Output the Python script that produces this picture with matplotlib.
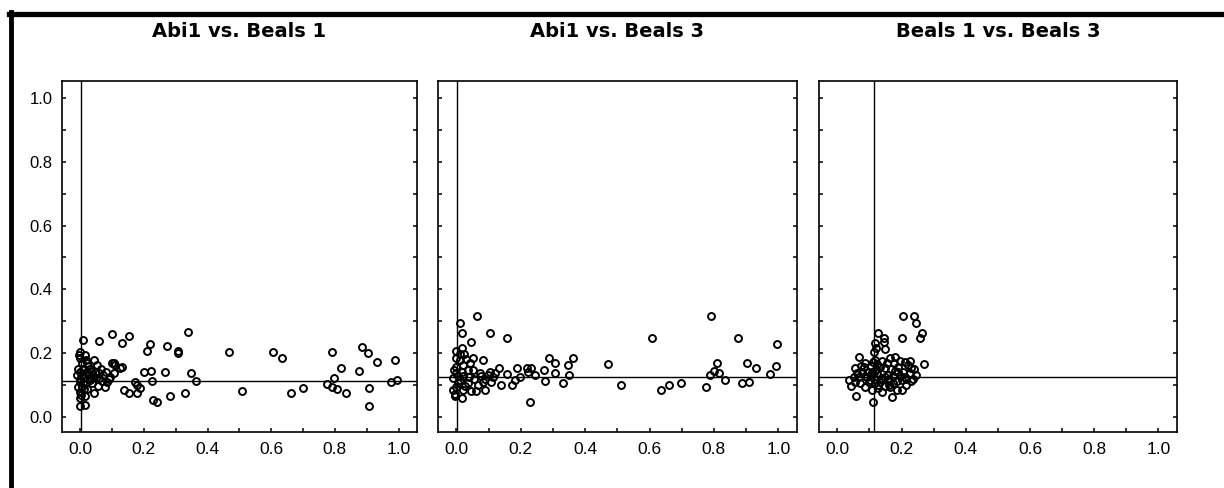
import matplotlib.pyplot as plt
from matplotlib.lines import Line2D
from matplotlib.ticker import MultipleLocator

# panel titles
titles = ['Abi1 vs. Beals 1', 'Abi1 vs. Beals 3', 'Beals 1 vs. Beals 3']

# reference lines (means)
abi1_mean = 0.002
beals1_mean = 0.113
beals3_mean = 0.124

# panel 1: Abi1 (x) vs Beals 1 (y)
p1_x = [0.01, 0.06, 0.10, 0.133, 0.152, 0.22, 0.21, 0.273, 0.306, 0.306, 0.34,
        0.466, 0.605, 0.634, 0.79, 0.886, 0.905, 0.933, 0.99, 0.818, 0.875,
        0.349, 0.364, 0.267, 0.20, 0.222, 0.225, 0.173, 0.18, 0.189, 0.178,
        0.138, 0.152, 0.23, 0.24, 0.283, 0.33, 0.508, 0.662, 0.70, 0.774,
        0.797, 0.79, 0.807, 0.835, 0.907, 0.907, 0.975, 0.994, 0.126, 0.105,
        0.0, 0.0, 0.005, -0.008, 0.01, -0.01, 0.008, 0.0, 0.01, 0.0, 0.0, 0.0,
        0.014, 0.021, 0.03, 0.026, 0.037, 0.021, 0.042, 0.047, 0.058, 0.052,
        0.073, 0.084, 0.094, 0.079, 0.105, 0.11, 0.131, 0.065, 0.042, 0.10,
        0.015, 0.035, 0.06, 0.09, 0.005, 0.02,
        -0.005, 0.0, 0.012, -0.006, 0.004, 0.018, 0.03, 0.045, 0.07, 0.025,
        0.012, 0.055, 0.08, 0.035, 0.0, 0.015]
p1_y = [0.24, 0.238, 0.26, 0.233, 0.255, 0.228, 0.207, 0.224, 0.208, 0.20, 0.265,
        0.203, 0.203, 0.184, 0.205, 0.218, 0.20, 0.173, 0.179, 0.155, 0.144,
        0.137, 0.113, 0.14, 0.14, 0.145, 0.113, 0.11, 0.10, 0.09, 0.076,
        0.085, 0.074, 0.053, 0.048, 0.066, 0.076, 0.082, 0.074, 0.09, 0.103,
        0.121, 0.093, 0.087, 0.076, 0.09, 0.036, 0.109, 0.116, 0.155, 0.168,
        0.205, 0.184, 0.168, 0.152, 0.152, 0.131, 0.131, 0.11, 0.105, 0.079,
        0.058, 0.034, 0.037, 0.168, 0.152, 0.131, 0.105, 0.089, 0.074, 0.142,
        0.121, 0.163, 0.131, 0.11, 0.126, 0.095, 0.137, 0.163, 0.158, 0.152,
        0.179, 0.17, 0.195, 0.118, 0.138, 0.118, 0.095, 0.14,
        0.195, 0.142, 0.122, 0.095, 0.068, 0.178, 0.115, 0.125, 0.112, 0.16,
        0.088, 0.098, 0.14, 0.145, 0.12, 0.065]

# panel 2: Abi1 (x) vs Beals 3 (y)
p2_x = [0.064, 0.01, 0.016, 0.045, 0.104, 0.156, 0.607, 0.79, 0.875, 0.995,
        0.0, 0.019, 0.0, 0.01, 0.03, 0.052, 0.083, 0.02, 0.042, 0.0, 0.0,
        0.016, 0.052, -0.01, 0.01, 0.036, 0.0, -0.01, 0.02, -0.005, 0.016,
        0.047, 0.062, 0.068, 0.088, 0.083, 0.109, 0.099, 0.073, 0.104, 0.133,
        0.12, 0.156, 0.14, 0.174, 0.189, 0.182, 0.197, 0.218, 0.232, 0.223,
        0.244, 0.228, 0.272, 0.275, 0.289, 0.306, 0.306, 0.332, 0.346, 0.351,
        0.363, 0.47, 0.512, 0.636, 0.659, 0.699, 0.774, 0.789, 0.808, 0.80,
        0.817, 0.835, 0.888, 0.909, 0.903, 0.932, 0.974, 0.992, 0.005, 0.025,
        -0.008, 0.006, 0.022, 0.035, 0.012, -0.004, 0.028, 0.055, 0.075, 0.04,
        0.09, 0.115]
p2_y = [0.315, 0.296, 0.262, 0.236, 0.262, 0.247, 0.249, 0.315, 0.249, 0.229,
        0.208, 0.215, 0.184, 0.179, 0.181, 0.184, 0.179, 0.163, 0.168, 0.158,
        0.137, 0.142, 0.147, 0.121, 0.116, 0.106, 0.095, 0.085, 0.085, 0.066,
        0.061, 0.082, 0.082, 0.10, 0.085, 0.111, 0.111, 0.132, 0.137, 0.142,
        0.155, 0.137, 0.135, 0.10, 0.10, 0.153, 0.116, 0.126, 0.155, 0.155,
        0.142, 0.132, 0.046, 0.147, 0.114, 0.184, 0.168, 0.139, 0.106, 0.163,
        0.132, 0.184, 0.165, 0.10, 0.085, 0.10, 0.106, 0.095, 0.132, 0.168,
        0.145, 0.137, 0.116, 0.106, 0.111, 0.168, 0.155, 0.135, 0.16, 0.128,
        0.198,
        0.148, 0.105, 0.128, 0.148, 0.196, 0.072, 0.098, 0.118, 0.128, 0.124,
        0.12, 0.125]

# panel 3: Beals 1 (x) vs Beals 3 (y)
p3_x = [0.205, 0.239, 0.246, 0.264, 0.258, 0.20, 0.269, 0.126, 0.144, 0.144,
        0.116, 0.149, 0.069, 0.054, 0.036, 0.044, 0.059, 0.111, 0.171, 0.185,
        0.087, 0.118, 0.133, 0.164, 0.18, 0.21, 0.231, 0.226, 0.20, 0.215,
        0.077, 0.108, 0.056, 0.087, 0.133, 0.159, 0.174, 0.108, 0.138, 0.067,
        0.102, 0.149, 0.19, 0.19, 0.21, 0.164, 0.118, 0.092, 0.123, 0.20,
        0.082, 0.051, 0.221, 0.138, 0.118, 0.128,
        0.062, 0.072, 0.095, 0.105, 0.112, 0.125, 0.14, 0.155, 0.168, 0.178,
        0.195, 0.205, 0.225, 0.24, 0.235, 0.245, 0.098, 0.115, 0.128, 0.148,
        0.16, 0.172, 0.185, 0.195, 0.215, 0.228, 0.112, 0.122, 0.135, 0.085,
        0.075, 0.15, 0.16, 0.18, 0.113, 0.12]
p3_y = [0.317, 0.318, 0.296, 0.264, 0.249, 0.249, 0.166, 0.262, 0.249, 0.236,
        0.231, 0.212, 0.187, 0.153, 0.116, 0.097, 0.066, 0.048, 0.062, 0.085,
        0.17, 0.179, 0.158, 0.184, 0.189, 0.173, 0.153, 0.137, 0.116, 0.10,
        0.142, 0.142, 0.111, 0.095, 0.111, 0.132, 0.106, 0.085, 0.079, 0.126,
        0.116, 0.153, 0.158, 0.142, 0.126, 0.095, 0.106, 0.126, 0.137, 0.085,
        0.158, 0.126, 0.163, 0.121, 0.145, 0.10,
        0.138, 0.105, 0.14, 0.16, 0.172, 0.165, 0.175, 0.168, 0.15, 0.17,
        0.175, 0.14, 0.176, 0.15, 0.118, 0.132, 0.11, 0.12, 0.092, 0.098,
        0.118, 0.13, 0.112, 0.13, 0.118, 0.112, 0.135, 0.152, 0.118, 0.128,
        0.16, 0.125, 0.1, 0.145, 0.205, 0.215]

panels = [(p1_x, p1_y, abi1_mean, beals1_mean),
          (p2_x, p2_y, abi1_mean, beals3_mean),
          (p3_x, p3_y, beals1_mean, beals3_mean)]

W, H = 1224, 488
fig = plt.figure(figsize=(W / 100, H / 100), dpi=100)

# axes boxes in pixels: left, right, top, bottom
boxes = [(62, 417, 81, 432), (438, 797, 81, 432), (819, 1177, 81, 432)]

for i, ((xs, ys, vx, hy), (l, r, t, b)) in enumerate(zip(panels, boxes)):
    ax = fig.add_axes([l / W, (H - b) / H, (r - l) / W, (b - t) / H])
    ax.plot(xs, ys, linestyle='none', marker='o', markersize=5,
            markerfacecolor='none', markeredgecolor='black', markeredgewidth=1.4)
    ax.axvline(vx, color='black', lw=1.0)
    ax.axhline(hy, color='black', lw=1.0)
    ax.set_xlim(-0.057, 1.058)
    ax.set_ylim(-0.047, 1.053)
    ax.xaxis.set_major_locator(MultipleLocator(0.2))
    ax.xaxis.set_minor_locator(MultipleLocator(0.1))
    ax.yaxis.set_major_locator(MultipleLocator(0.2))
    ax.yaxis.set_minor_locator(MultipleLocator(0.1))
    ax.xaxis.set_major_formatter(lambda v, p: f'{v:.1f}')
    ax.yaxis.set_major_formatter(lambda v, p: f'{v:.1f}')
    ax.tick_params(which='both', direction='in', length=3, width=1.1,
                   top=False, right=True, left=True, bottom=True)
    ax.tick_params(axis='x', labelsize=12.5, pad=7)
    ax.tick_params(axis='y', labelsize=12, pad=7, labelleft=(i == 0))
    for lab in ax.get_xticklabels() + ax.get_yticklabels():
        lab.set_family('Liberation Sans')
    for s in ax.spines.values():
        s.set_linewidth(1.2)
    ax.set_title(titles[i], fontsize=14, fontweight='bold',
                 family='DejaVu Sans', pad=32)

# thick frame (top and left edges)
fig.add_artist(Line2D([9 / W, 1.0], [1 - 14 / H, 1 - 14 / H],
                      transform=fig.transFigure, color='black', lw=3.8))
fig.add_artist(Line2D([11 / W, 11 / W], [0.0, 1 - 12 / H],
                      transform=fig.transFigure, color='black', lw=3.5))

fig.savefig('out.png', dpi=100)
